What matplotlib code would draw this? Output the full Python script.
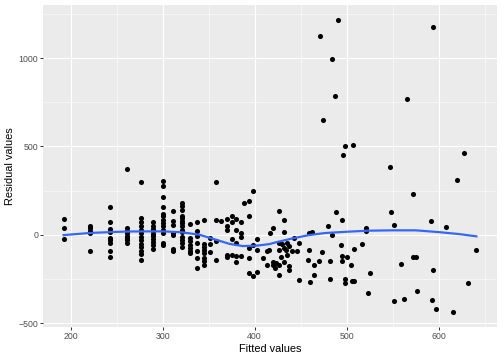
import matplotlib
matplotlib.use("Agg")
import matplotlib.pyplot as plt
from matplotlib.ticker import MultipleLocator

plt.rcParams['font.family'] = ['Liberation Sans', 'DejaVu Sans']

# fitted values (x) and residuals (y)
fitted = [
    192.5, 192.5, 192.5,
    221.4, 221.4, 221.4, 221.4, 221.4,
    243, 243, 243, 243, 243, 243, 243, 243, 243,
    261, 261, 261, 261, 261, 261, 261, 261,
    276.6, 276.6, 276.6, 276.6, 276.6, 276.6, 276.6, 276.6, 276.6, 276.6, 276.6, 276.6, 276.6,
    290, 290, 290, 290, 290, 290, 290, 290, 290, 290,
    301, 301, 301, 301, 301, 301, 301, 301, 301, 301, 301, 301, 301,
    311.6, 311.6, 311.6, 311.6, 311.6, 311.6, 311.6,
    321, 321, 321, 321, 321, 321, 321, 321, 321, 321, 321, 321, 321, 321,
    329.7, 329.7, 329.7, 329.7, 329.7, 329.7, 329.7,
    337.6, 337.6, 337.6, 337.6, 337.6, 337.6, 337.6,
    345.2, 345.2, 345.2, 345.2, 345.2, 345.2, 345.2, 345.2,
    352, 352, 352,
    358.5, 358.5, 358.5, 358.5,
    364,
    370, 370, 370, 370, 370,
    375, 375, 375, 375,
    380, 380, 380, 380, 380,
    385.6, 385.6, 385.6, 385.6,
    389,
    394, 394, 394, 394, 394,
    398, 398, 398,
    402.5, 402.5, 402.5,
    409.6, 413.2, 413.2, 416.1, 416.9, 419.7, 420.5, 420.5, 422.6, 423.4,
    426.2, 426.2, 426.2, 426.2, 426.2, 429.1, 429.8, 432.4, 432.4, 432.4,
    432.4, 434.2, 435.3, 435.3, 437.1, 437.8, 437.8, 440.7, 443.2, 445.7,
    447.9, 448.6,
    457.6, 459.5, 459.5, 460.2, 462.3, 464.9, 464.9, 470.3, 472.8, 480,
    481.8, 481.8, 483.6, 488.7, 493.4, 495.2, 495.2, 495.2, 498, 498,
    499.9, 505.3, 505.7, 507.5, 508, 517, 521.5, 521.5, 523, 525.5,
    548.6, 551.9, 551.9, 558.7, 562, 572.4, 572.4, 575, 576, 592,
    592.3, 593.7, 596.6, 607.8, 615.4, 619.7, 627.7, 631.6, 641,
    470.6, 483.6, 490.5, 487.2, 474.6, 498, 496.6, 507, 546.8, 565.2, 594,
]
residual = [
    89, 38, -22,
    48, 36, 23, 10, -94,
    155, 74, 32, 15, -17, -28, -47, -94, -124,
    374, 38, 23, 10, -5, -19, -32, -49,
    300, 95, 70, 47, 29, 10, -13, -32, -53, -71, -90, -109, -145,
    74, 51, 32, 19, 4, -9, -24, -41, -60, -81,
    302, 278, 212, 157, 117, 104, 85, 66, 48, 29, 10, -47, -56,
    136, 76, 57, 10, 0, -81, -94,
    180, 161, 138, 108, 95, 80, 66, 48, 29, 14, -13, -28, -47, -70,
    61, -19, -37, -56, -75, -94, -103,
    70, 19, -9, -47, -94, -132, -188,
    81, -51, -70, -89, -104, -132, -151, -170,
    -21, -52, -97,
    300, 83, -34, -145,
    75,
    88, 48, 29, -113, -124,
    108, 70, -22, -113,
    88, 29, -49, -122, -155,
    70, 10, -13, -122,
    180,
    189, 108, -75, -132, -217,
    246, -57, -232,
    -22, -85, -213,
    -133, -94, -171, -85, 10, -172, 36, -153, -190, -160,
    134, -47, -89, -170, -226, -128, -51, 85, 17, -75,
    -156, -85, -47, -113, -66, -179, -202, -94, -19, -94,
    -47, -254,
    -141, 10, -89, -270, 14, -170, -230, -147, -100, 48,
    -147, -251, -2, 127, -58, 82, -122, -151, -251, -273,
    -126, -170, -264, -260, -81, -51, 36, 21, -330, -217,
    127, 55, -373, -166, -362, 232, -124, -126, -317, 80,
    -372, -198, -421, 42, -439, 312, 463, -273, -87,
    1127, 993, 1217, 785, 651, 500, 451, 506, 383, 768, 1178,
]

# smoother as drawn in the reference
smooth_x = [192.5, 221, 243, 261, 277, 301, 321, 340, 358, 373, 387, 402,
            416, 423, 441, 459, 477, 500, 524, 550, 575, 600, 622, 641]
smooth_y = [-2, 10, 15, 18, 19, 19, 14, 0, -28, -52, -64, -62,
            -53, -43, -21, -2, 10, 17, 23, 25, 25, 15, 4, -9]

fig = plt.figure(figsize=(7, 5), dpi=72)
ax = fig.add_axes([43 / 504, 1 - 327 / 360, 454 / 504, 322 / 360])
ax.set_facecolor('#EBEBEB')
for s in ax.spines.values():
    s.set_visible(False)

ax.scatter(fitted, residual, s=26, color='black', linewidths=0, zorder=3)
ax.plot(smooth_x, smooth_y, color='#3366FF', lw=2.2, zorder=4)

ax.set_xlim(170.1, 663.4)
ax.set_ylim(-522, 1300)
ax.xaxis.set_major_locator(MultipleLocator(100))
ax.xaxis.set_minor_locator(MultipleLocator(50))
ax.yaxis.set_major_locator(MultipleLocator(500))
ax.yaxis.set_minor_locator(MultipleLocator(250))
ax.grid(which='major', color='white', lw=1.1)
ax.grid(which='minor', color='white', lw=0.55)
ax.set_axisbelow(True)
ax.tick_params(which='major', length=2.75, width=1.0, color='#333333',
               labelsize=8.8, labelcolor='#4D4D4D', pad=2.2)
ax.tick_params(which='minor', length=0)

ax.set_xlabel('Fitted values', fontsize=11, labelpad=3)
ax.set_ylabel('Residual values', fontsize=11, labelpad=3)

fig.savefig('out.png', dpi=72)
